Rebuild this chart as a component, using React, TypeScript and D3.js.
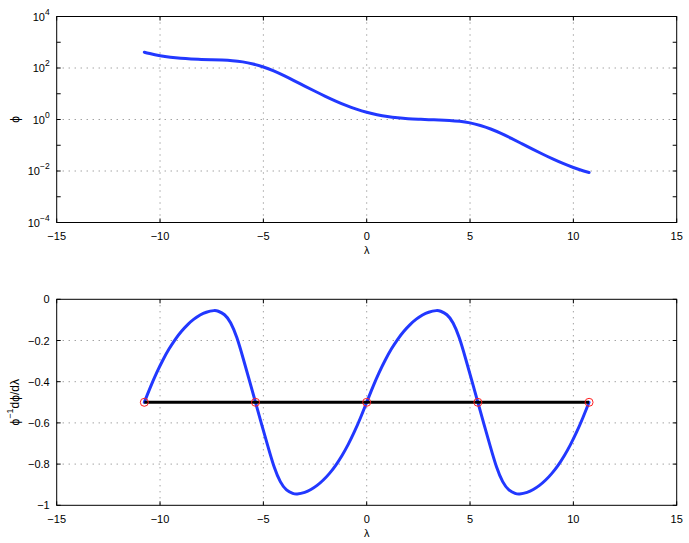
import React from "react";
import * as d3 from "d3";

// ---- data ----
const lambdaTop = [-10.76, -10.5, -10, -9.5, -9, -8.5, -8, -7.5, -7, -6.5, -6, -5.5, -5, -4.5, -4, -3.5, -3, -2.5, -2, -1.5, -1, -0.5, 0, 0.5, 1, 1.5, 2, 2.5, 3, 3.5, 4, 4.5, 5, 5.5, 6, 6.5, 7, 7.5, 8, 8.5, 9, 9.5, 10, 10.5, 10.76];
const log10PhiTop = [2.614, 2.561, 2.479, 2.420, 2.379, 2.352, 2.334, 2.321, 2.307, 2.284, 2.238, 2.158, 2.040, 1.884, 1.701, 1.502, 1.297, 1.096, 0.900, 0.716, 0.548, 0.402, 0.28, 0.185, 0.114, 0.065, 0.031, 0.010, -0.006, -0.018, -0.036, -0.070, -0.132, -0.231, -0.368, -0.539, -0.733, -0.936, -1.14, -1.34, -1.53, -1.706, -1.864, -1.999, -2.059];

const lambdaBottom = [
  -10.76, -10.46, -10.16, -9.86, -9.56, -9.26, -8.96, -8.66, -8.36, -8.06, -7.76, -7.4,
  -7.18, -6.88, -6.58, -6.28, -5.98, -5.68, -5.38, -5.08, -4.78, -4.48, -4.18, -3.88, -3.58, -3.36,
  -3.0, -2.7, -2.4, -2.1, -1.8, -1.5, -1.2, -0.9, -0.6, -0.3, 0,
  0.3, 0.6, 0.9, 1.2, 1.5, 1.8, 2.1, 2.4, 2.7, 3.0, 3.36,
  3.58, 3.88, 4.18, 4.48, 4.78, 5.08, 5.38, 5.68, 5.98, 6.28, 6.58, 6.88, 7.18, 7.4,
  7.76, 8.06, 8.36, 8.66, 8.96, 9.26, 9.56, 9.86, 10.16, 10.46, 10.76,
];
const dlogBottom = [
  -0.5, -0.425, -0.356, -0.2945, -0.2405, -0.194, -0.155, -0.1226, -0.0965, -0.0764, -0.0629, -0.055,
  -0.058, -0.075, -0.115, -0.187, -0.286, -0.392, -0.5, -0.608, -0.714, -0.813, -0.885, -0.925, -0.942, -0.945,
  -0.9371, -0.9236, -0.9035, -0.8774, -0.845, -0.806, -0.7595, -0.7055, -0.644, -0.575, -0.5,
  -0.425, -0.356, -0.2945, -0.2405, -0.194, -0.155, -0.1226, -0.0965, -0.0764, -0.0629, -0.055,
  -0.058, -0.075, -0.115, -0.187, -0.286, -0.392, -0.5, -0.608, -0.714, -0.813, -0.885, -0.925, -0.942, -0.945,
  -0.9371, -0.9236, -0.9035, -0.8774, -0.845, -0.806, -0.7595, -0.7055, -0.644, -0.575, -0.5,
];

const crossLambda = [-10.76, -5.38, 0, 5.38, 10.76];
const crossValue = [-0.5, -0.5, -0.5, -0.5, -0.5];

const xTicks = [-15, -10, -5, 0, 5, 10, 15];
const xTickLabels = ["\u221215", "\u221210", "\u22125", "0", "5", "10", "15"];
const topExpTicks = [-4, -3, -2, -1, 0, 1, 2, 3, 4];
const topExpLabels = [-4, -2, 0, 2, 4];
const bottomYTicks = [0, -0.2, -0.4, -0.6, -0.8, -1];
const bottomYLabels = ["0", "\u22120.2", "\u22120.4", "\u22120.6", "\u22120.8", "\u22121"];

const W = 689;
const H = 543;
const L = 56.7;
const R = 676.7;
const T1 = 16.5, B1 = 222.5;
const T2 = 299.3, B2 = 505.3;
const FONT = "'Liberation Sans', Arial, Helvetica, sans-serif";
const BLUE = "#2238ff";
const GRID = "#7a7a7a";

export default function App() {
  const x = d3.scaleLinear().domain([-15, 15]).range([L, R]);
  const yTop = d3.scaleLog().domain([1e-4, 1e4]).range([B1, T1]);
  const yBot = d3.scaleLinear().domain([-1, 0]).range([B2, T2]);

  const topPts: [number, number][] = lambdaTop.map((l, i) => [l, Math.pow(10, log10PhiTop[i])]);
  const botPts: [number, number][] = lambdaBottom.map((l, i) => [l, dlogBottom[i]]);

  const topLine = d3.line<[number, number]>().x(d => x(d[0])).y(d => yTop(d[1])).curve(d3.curveNatural);
  const botLine = d3.line<[number, number]>().x(d => x(d[0])).y(d => yBot(d[1])).curve(d3.curveNatural);
  const flatLine = d3.line<[number, number]>().x(d => x(d[0])).y(d => yBot(d[1]));

  const TL = 4;

  const xGrid = (top: number, bottom: number) =>
    xTicks.filter(t => t > -15 && t < 15).map(t => (
      <line key={"xg" + t} x1={x(t)} x2={x(t)} y1={top} y2={bottom} stroke={GRID} strokeWidth={1} strokeDasharray="1,5" />
    ));

  const xTickMarks = (top: number, bottom: number) =>
    xTicks.map(t => (
      <g key={"xt" + t}>
        <line x1={x(t)} x2={x(t)} y1={bottom} y2={bottom - TL} stroke="#000" strokeWidth={1} />
        <line x1={x(t)} x2={x(t)} y1={top} y2={top + TL} stroke="#000" strokeWidth={1} />
      </g>
    ));

  const xLabels = (bottom: number) =>
    xTicks.map((t, i) => (
      <text key={"xl" + t} x={x(t)} y={bottom + 17.5} textAnchor="middle" fontSize={11} fontFamily={FONT} fill="#000">
        {xTickLabels[i]}
      </text>
    ));

  return (
    <svg width={W} height={H} style={{ position: "absolute", left: 0, top: 0, background: "#fff" }}>
      <rect x={0} y={0} width={W} height={H} fill="#fff" />

      {/* ---------- top plot ---------- */}
      <g>
        {xGrid(T1, B1)}
        {topExpLabels.filter(e => e > -4 && e < 4).map(e => (
          <line key={"yg" + e} x1={L} x2={R} y1={yTop(Math.pow(10, e))} y2={yTop(Math.pow(10, e))} stroke={GRID} strokeWidth={1} strokeDasharray="1,5" />
        ))}
        {xTickMarks(T1, B1)}
        {topExpTicks.map(e => (
          <g key={"yt" + e}>
            <line x1={L} x2={L + TL} y1={yTop(Math.pow(10, e))} y2={yTop(Math.pow(10, e))} stroke="#000" />
            <line x1={R} x2={R - TL} y1={yTop(Math.pow(10, e))} y2={yTop(Math.pow(10, e))} stroke="#000" />
          </g>
        ))}
        <rect x={L} y={T1} width={R - L} height={B1 - T1} fill="none" stroke="#000" strokeWidth={1} />
        {xLabels(B1)}
        {topExpLabels.map(e => (
          <text key={"yl" + e} x={L - 7} y={yTop(Math.pow(10, e)) + 4} textAnchor="end" fontSize={11} fontFamily={FONT} fill="#000">
            10
            <tspan dy={-6} fontSize={8.5}>{e < 0 ? "\u2212" + Math.abs(e) : String(e)}</tspan>
          </text>
        ))}
        <text x={x(0)} y={B1 + 31.5} textAnchor="middle" fontSize={11} fontFamily={FONT}>λ</text>
        <text transform={`translate(19,${(T1 + B1) / 2}) rotate(-90)`} textAnchor="middle" fontSize={12} fontFamily={FONT}>ϕ</text>
        <path d={topLine(topPts) || ""} fill="none" stroke={BLUE} strokeWidth={3} strokeLinecap="round" strokeLinejoin="round" />
      </g>

      {/* ---------- bottom plot ---------- */}
      <g>
        {xGrid(T2, B2)}
        {bottomYTicks.filter(v => v > -1 && v < 0).map(v => (
          <line key={"bg" + v} x1={L} x2={R} y1={yBot(v)} y2={yBot(v)} stroke={GRID} strokeWidth={1} strokeDasharray="1,5" />
        ))}
        {xTickMarks(T2, B2)}
        {bottomYTicks.map(v => (
          <g key={"bt" + v}>
            <line x1={L} x2={L + TL} y1={yBot(v)} y2={yBot(v)} stroke="#000" />
            <line x1={R} x2={R - TL} y1={yBot(v)} y2={yBot(v)} stroke="#000" />
          </g>
        ))}
        <rect x={L} y={T2} width={R - L} height={B2 - T2} fill="none" stroke="#000" strokeWidth={1} />
        {xLabels(B2)}
        {bottomYTicks.map((v, i) => (
          <text key={"bl" + v} x={L - 7} y={yBot(v) + 4} textAnchor="end" fontSize={11} fontFamily={FONT} fill="#000">
            {bottomYLabels[i]}
          </text>
        ))}
        <text x={x(0)} y={B2 + 31.5} textAnchor="middle" fontSize={11} fontFamily={FONT}>λ</text>
        <text transform={`translate(19,${(T2 + B2) / 2}) rotate(-90)`} textAnchor="middle" fontSize={12} fontFamily={FONT}>
          ϕ<tspan dy={-6} fontSize={9}>{"\u22121"}</tspan><tspan dy={6}>dϕ/dλ</tspan>
        </text>
        <path d={botLine(botPts) || ""} fill="none" stroke={BLUE} strokeWidth={3} strokeLinecap="round" strokeLinejoin="round" />
        <path d={flatLine(crossLambda.map((l, i) => [l, crossValue[i]] as [number, number])) || ""} fill="none" stroke="#000" strokeWidth={3} />
        {crossLambda.map((l, i) => (
          <circle key={"c" + i} cx={x(l)} cy={yBot(crossValue[i])} r={4} fill="none" stroke="#ff2020" strokeWidth={1} />
        ))}
      </g>
    </svg>
  );
}
